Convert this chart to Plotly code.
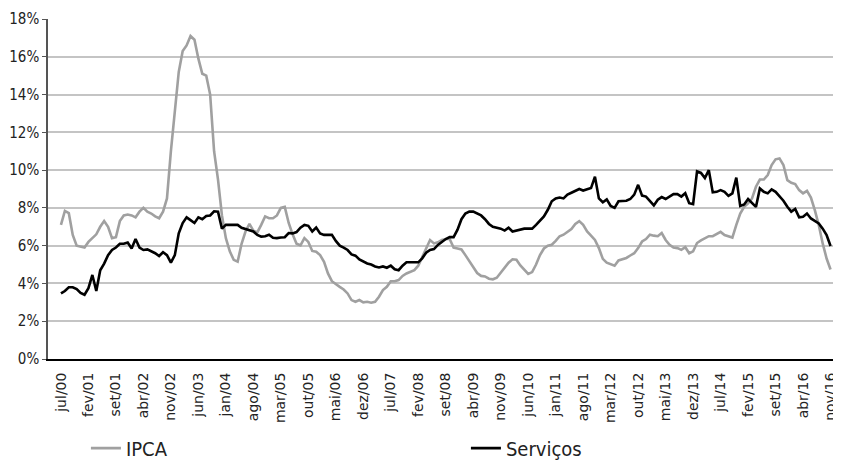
import plotly.graph_objects as go

tick_labels = ["jul/00", "fev/01", "set/01", "abr/02", "nov/02", "jun/03", "jan/04", "ago/04",
               "mar/05", "out/05", "mai/06", "dez/06", "jul/07", "fev/08", "set/08", "abr/09",
               "nov/09", "jun/10", "jan/11", "ago/11", "mar/12", "out/12", "mai/13", "dez/13",
               "jul/14", "fev/15", "set/15", "abr/16", "nov/16"]

ipca = [7.1, 7.84, 7.72, 6.57, 6.0, 5.95, 5.9, 6.2, 6.4, 6.6,
        7.0, 7.3, 7.0, 6.4, 6.45, 7.3, 7.6, 7.65, 7.6, 7.5,
        7.8, 8.0, 7.8, 7.7, 7.55, 7.45, 7.8, 8.5, 11.0, 13.3,
        15.2, 16.3, 16.6, 17.1, 16.9, 15.9, 15.1, 15.0, 14.0, 11.0,
        9.5, 7.6, 6.4, 5.7, 5.25, 5.15, 6.1, 6.75, 7.15, 6.8,
        6.7, 7.1, 7.55, 7.45, 7.45, 7.6, 8.0, 8.05, 7.2, 6.6,
        6.1, 6.02, 6.4, 6.2, 5.72, 5.68, 5.5, 5.15, 4.53, 4.12,
        3.95, 3.82, 3.68, 3.47, 3.12, 3.03, 3.12, 3.0, 3.03, 2.98,
        3.03, 3.3, 3.65, 3.82, 4.12, 4.12, 4.18, 4.4, 4.53, 4.62,
        4.7, 4.94, 5.42, 5.9, 6.3, 6.12, 6.18, 6.3, 6.35, 6.35,
        5.9, 5.85, 5.8, 5.5, 5.2, 4.85, 4.55, 4.4, 4.37, 4.25,
        4.22, 4.3, 4.55, 4.8, 5.1, 5.28, 5.25, 4.95, 4.7, 4.5,
        4.6, 5.0, 5.5, 5.85, 6.0, 6.05, 6.25, 6.5, 6.58, 6.75,
        6.88, 7.15, 7.3, 7.1, 6.75, 6.53, 6.3, 5.87, 5.3, 5.1,
        5.03, 4.94, 5.22, 5.3, 5.35, 5.48, 5.6, 5.87, 6.22, 6.35,
        6.58, 6.53, 6.5, 6.67, 6.3, 6.05, 5.9, 5.87, 5.78, 5.92,
        5.6, 5.7, 6.14, 6.28, 6.4, 6.5, 6.5, 6.6, 6.73, 6.56,
        6.5, 6.43, 7.1, 7.7, 8.06, 8.24, 8.5, 9.12, 9.5, 9.5,
        9.74, 10.27, 10.57, 10.62, 10.27, 9.47, 9.33, 9.26, 8.94, 8.77,
        8.9, 8.55, 7.88, 7.09, 6.12, 5.32, 4.74]

servicos = [3.47, 3.6, 3.8, 3.8, 3.7, 3.5, 3.4, 3.75, 4.45, 3.6,
            4.7, 5.05, 5.5, 5.77, 5.9, 6.1, 6.1, 6.17, 5.85, 6.35,
            5.9, 5.77, 5.8, 5.7, 5.6, 5.45, 5.65, 5.5, 5.1, 5.5,
            6.65, 7.2, 7.5, 7.35, 7.2, 7.5, 7.4, 7.57, 7.6, 7.82,
            7.8, 6.9, 7.1, 7.1, 7.1, 7.1, 6.95, 6.87, 6.83, 6.75,
            6.57, 6.48, 6.5, 6.58, 6.42, 6.4, 6.43, 6.45, 6.67, 6.65,
            6.72, 6.95, 7.1, 7.05, 6.75, 6.96, 6.65, 6.57, 6.57, 6.57,
            6.25, 6.0, 5.9, 5.77, 5.54, 5.47, 5.27, 5.15, 5.06, 5.0,
            4.9, 4.85, 4.9, 4.83, 4.94, 4.75, 4.7, 4.94, 5.12, 5.12,
            5.12, 5.12, 5.33, 5.63, 5.77, 5.82, 6.04, 6.2, 6.35, 6.45,
            6.45, 6.85, 7.4, 7.7, 7.8, 7.8, 7.72, 7.6, 7.4, 7.15,
            7.0, 6.95, 6.9, 6.8, 6.95, 6.75, 6.8, 6.85, 6.9, 6.9,
            6.9, 7.1, 7.3, 7.55, 7.9, 8.35, 8.5, 8.55, 8.5, 8.7,
            8.8, 8.9, 9.0, 8.92, 9.0, 9.05, 9.65, 8.5, 8.3, 8.45,
            8.1, 8.0, 8.35, 8.38, 8.38, 8.47, 8.7, 9.22, 8.65, 8.6,
            8.35, 8.13, 8.43, 8.57, 8.47, 8.6, 8.73, 8.73, 8.6, 8.78,
            8.25, 8.2, 9.93, 9.85, 9.58, 10.0, 8.82, 8.85, 8.94, 8.85,
            8.64, 8.77, 9.6, 8.1, 8.18, 8.47, 8.24, 8.05, 9.03, 8.85,
            8.77, 8.98, 8.85, 8.63, 8.38, 8.06, 7.8, 7.94, 7.5, 7.53,
            7.7, 7.44, 7.3, 7.18, 6.9, 6.56, 5.98]

months = list(range(len(ipca)))
tick_step = 7
tickvals = [i * tick_step for i in range(len(tick_labels))]

fig = go.Figure()
fig.add_trace(go.Scatter(x=months, y=ipca, mode="lines", name="IPCA",
                         line=dict(color="#a0a0a0", width=2.6)))
fig.add_trace(go.Scatter(x=months, y=servicos, mode="lines", name="Serviços",
                         line=dict(color="#000000", width=2.6)))

cond = "DejaVu Sans Condensed, Liberation Sans, Arial"

# page body has an 8px margin, so the figure is offset by 8px in the window
fig.update_layout(
    width=833, height=454,
    margin=dict(l=40, r=3, t=11, b=103, autoexpand=False),
    paper_bgcolor="white", plot_bgcolor="white",
    font=dict(family=cond, color="#222222", size=15),
    legend=dict(orientation="h", x=0.048, xanchor="left", y=-0.262, yanchor="middle",
                font=dict(size=20, family=cond),
                entrywidth=335, entrywidthmode="pixels"),
    showlegend=True,
)
fig.update_xaxes(
    range=[-3.3, 197.9], tickmode="array", tickvals=tickvals, ticktext=tick_labels,
    tickangle=-90, showgrid=False, zeroline=False, automargin=False,
    showline=True, linecolor="#000000", linewidth=2,
    tickfont=dict(family="DejaVu Sans", size=14, color="#222222"),
    ticks="", ticklen=0, ticklabelstandoff=6,
)
fig.update_yaxes(
    range=[0, 18], dtick=2, ticksuffix="%", showgrid=True, gridcolor="#c4c4c4", gridwidth=1.5,
    zeroline=False, showline=True, linecolor="#555555", linewidth=1.5, automargin=False,
    ticks="outside", ticklen=4, tickcolor="#555555",
    tickfont=dict(family=cond, size=15, color="#222222"),
)

fig.write_html("out.html")
